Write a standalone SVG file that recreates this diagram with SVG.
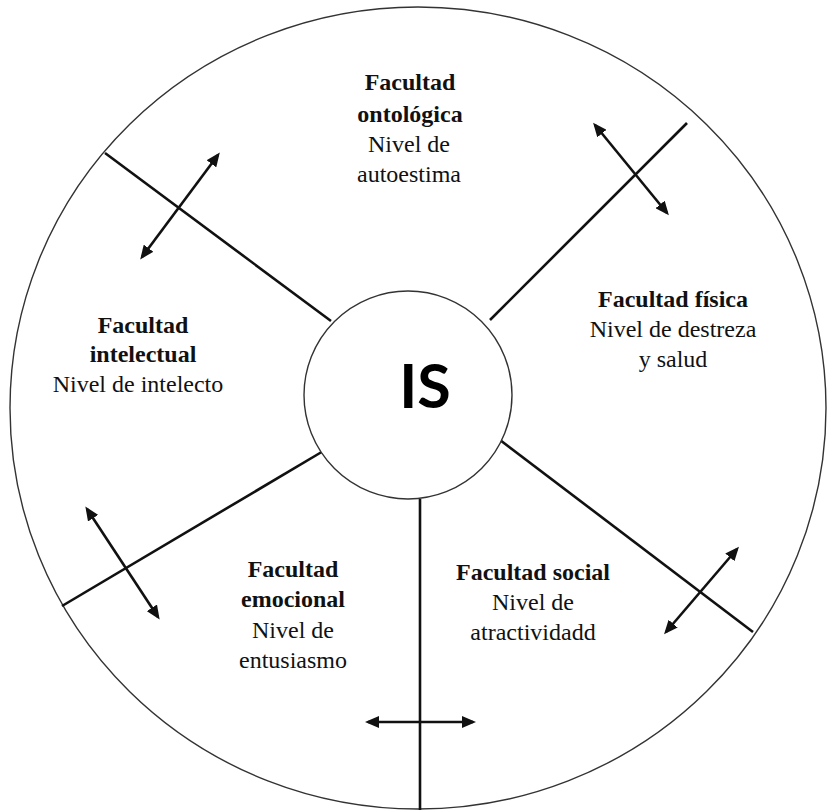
<svg xmlns="http://www.w3.org/2000/svg" width="827" height="810" viewBox="0 0 827 810">
<style>
.ring{fill:none;stroke:#333;stroke-width:1.4}
.div{stroke:#111;stroke-width:2.6;fill:none}
.arr{stroke:#111;stroke-width:2.6;fill:none;marker-start:url(#ah);marker-end:url(#ah)}
.t{font-family:"Liberation Serif","Times New Roman",serif;font-size:24px;fill:#111;text-anchor:middle}
.b{font-weight:bold}
.is{font-family:Lato,"Liberation Sans",sans-serif;font-weight:700;font-size:61px;fill:#000;text-anchor:middle}
</style>
<defs>
<marker id="ah" markerUnits="userSpaceOnUse" markerWidth="14" markerHeight="12" viewBox="0 0 14 12" refX="11" refY="6" orient="auto-start-reverse">
<path d="M0,0 L14,6 L0,12 z" fill="#111"/>
</marker>
</defs>
<rect width="827" height="810" fill="#fff"/>
<g id="outer"><ellipse class="ring" cx="418" cy="408" rx="408" ry="401"/></g>
<g id="connectors">
<line class="div" x1="105" y1="153" x2="331" y2="321"/>
<line class="div" x1="687" y1="123" x2="490" y2="320"/>
<line class="div" x1="62" y1="606" x2="325" y2="450"/>
<line class="div" x1="500" y1="440" x2="753" y2="632"/>
<line class="div" x1="420" y1="499" x2="420" y2="810"/>
<line class="arr" x1="142" y1="257" x2="218" y2="155"/>
<line class="arr" x1="595" y1="125" x2="667" y2="213"/>
<line class="arr" x1="87" y1="509" x2="158" y2="617"/>
<line class="arr" x1="666" y1="632" x2="737" y2="549"/>
<line class="arr" x1="368" y1="722" x2="473" y2="722"/>
</g>
<g id="center">
<circle cx="408" cy="395" r="104" fill="#fff" stroke="#333" stroke-width="1.4"/>
<text class="is" x="425" y="408">IS</text>
</g>
<g id="ontologica">
<text class="t b" x="410" y="90">Facultad</text>
<text class="t b" x="410" y="122">ontológica</text>
<text class="t" x="409" y="152">Nivel  de</text>
<text class="t" x="409" y="182">autoestima</text>
</g>
<g id="fisica">
<text class="t b" x="673" y="307">Facultad física</text>
<text class="t" x="673" y="337">Nivel de destreza</text>
<text class="t" x="673" y="367">y salud</text>
</g>
<g id="intelectual">
<text class="t b" x="143" y="333">Facultad</text>
<text class="t b" x="143" y="362">intelectual</text>
<text class="t" x="138" y="392">Nivel  de intelecto</text>
</g>
<g id="emocional">
<text class="t b" x="293" y="577">Facultad</text>
<text class="t b" x="293" y="607">emocional</text>
<text class="t" x="293" y="638">Nivel  de</text>
<text class="t" x="293" y="668">entusiasmo</text>
</g>
<g id="social">
<text class="t b" x="533" y="580">Facultad social</text>
<text class="t" x="533" y="610">Nivel de</text>
<text class="t" x="533" y="640">atractividadd</text>
</g>
</svg>
